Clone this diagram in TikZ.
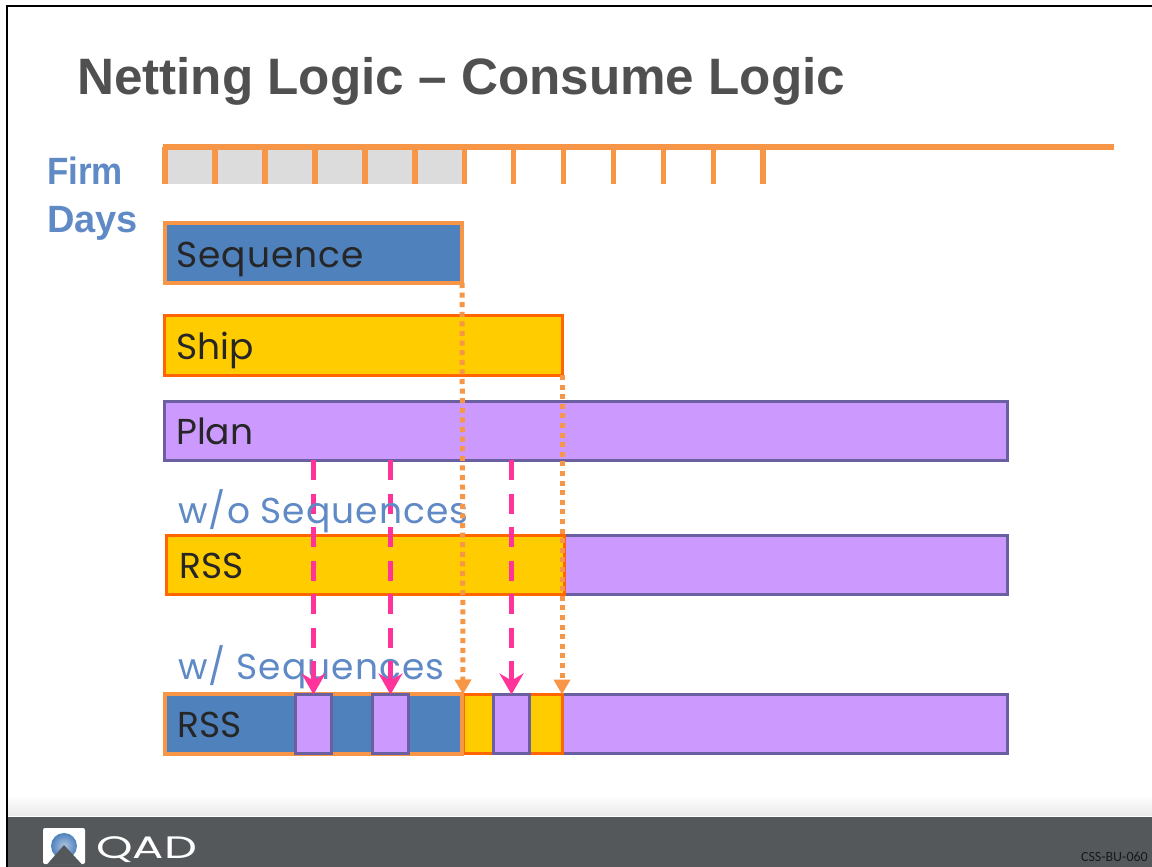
\documentclass[tikz,border=0pt]{standalone}
\usepackage{fontspec}
\setmainfont{Liberation Sans}
\newfontfamily\barfont{Poppins}
\newfontfamily\widefont[LetterSpace=3]{Poppins}
\newfontfamily\smallfont{Carlito}
\usetikzlibrary{arrows.meta}

\definecolor{seqblue}{HTML}{4F81BD}
\definecolor{seqorange}{HTML}{F79646}
\definecolor{shipyellow}{HTML}{FFCC00}
\definecolor{shiporange}{HTML}{FF6600}
\definecolor{planpurple}{HTML}{CC99FF}
\definecolor{planedge}{HTML}{6A5FA0}
\definecolor{headblue}{HTML}{5F8AC6}
\definecolor{titlegrey}{HTML}{505050}
\definecolor{footgrey}{HTML}{54585A}
\definecolor{cellgrey}{HTML}{DCDCDC}
\definecolor{arrowpink}{HTML}{FF3399}

\begin{document}
\begin{tikzpicture}[x=1pt,y=-1pt]

\tikzset{seqbar/.style = {shape=rectangle,draw=seqorange,fill=seqblue,line width=4.5pt,inner sep=0pt,outer sep=0pt}}
\tikzset{shipbar/.style = {shape=rectangle,draw=shiporange,fill=shipyellow,line width=3pt,inner sep=0pt,outer sep=0pt}}
\tikzset{planbar/.style = {shape=rectangle,draw=planedge,fill=planpurple,line width=3pt,inner sep=0pt,outer sep=0pt}}
\tikzset{barlabel/.style = {anchor=base west,inner sep=0pt,text=black!85,font=\barfont\fontsize{36}{40}\selectfont}}
\tikzset{rowlabel/.style = {anchor=base west,inner sep=0pt,text=headblue,font=\widefont\fontsize{36}{40}\selectfont}}
\tikzset{firm/.style = {anchor=base west,inner sep=0pt,text=headblue,font=\bfseries\fontsize{38}{42}\selectfont}}
\tikzset{cell/.style = {shape=rectangle,fill=cellgrey,inner sep=0pt,minimum width=45pt,minimum height=34pt}}
\tikzset{tick/.style = {seqorange,line width=5.5pt}}
\tikzset{planned/.style = {-{Stealth[length=21pt,width=24pt,inset=7pt]},arrowpink,line width=5.5pt,dash pattern=on 20pt off 13.5pt}}
\tikzset{firmed/.style = {-{Triangle[length=15pt,width=16pt]},seqorange,line width=5pt,dash pattern=on 5pt off 4.6pt}}

\useasboundingbox (0,0) rectangle (1152,867);
\fill[white] (0,0) rectangle (1152,867);

% frame and footer
\fill[black] (6,5) rectangle (1152,7);
\fill[black] (6,5) rectangle (8,867);
\shade[top color=white,bottom color=black!8] (8,795) rectangle (1152,815);
\fill[footgrey] (8,817) rectangle (1152,867);

\node[anchor=base west,inner sep=0pt,text=titlegrey,font=\bfseries\fontsize{51.2}{55}\selectfont] (title) at (77,95) {Netting Logic -- Consume Logic};

\node[firm] (firmword) at (47,184) {\scalebox{0.92}[1]{Firm}};
\node[firm] (daysword) at (47,232) {Days};

% firm day cells
\foreach \x in {190,240,290,340,390,440}
  \node[cell] (cell\x) at (\x,167) {};
\draw[seqorange,line width=6pt] (163,147)--(1114,147);
\foreach \x in {165,215,265,315,365,415,464.5,513.5,563.5,613.5,663.5,713.5,763}
  \draw[tick] (\x,147)--(\x,184);

% bars
\node[seqbar,minimum width=297pt,minimum height=60pt] (seq) at (313.5,253) {};
\node[barlabel] (seqlabel) at (176,267) {\widefont Sequence};

\node[shipbar,minimum width=398pt,minimum height=60pt] (ship) at (363,345) {};
\node[barlabel] (shiplabel) at (176,359) {Ship};

\node[planbar,minimum width=843pt,minimum height=59pt] (plan) at (585.5,430.5) {};
\node[barlabel] (planlabel) at (176,444) {Plan};

\node[planbar,minimum width=443pt,minimum height=59pt] (rssplan) at (785.5,565) {};
\node[shipbar,minimum width=398pt,minimum height=59pt] (rssship) at (365.5,565) {};
\node[barlabel] (rsslabel) at (179,578) {RSS};

\node[rowlabel] (wlabel) at (178,679) {w/ Sequences};

\node[planbar,minimum width=445pt,minimum height=59pt] (tailplan) at (784.5,724) {};
\node[shipbar,minimum width=99pt,minimum height=59pt] (tailship) at (512.5,724) {};
\node[seqbar,minimum width=297pt,minimum height=60pt] (tailseq) at (313.5,724) {};
\node[planbar,minimum width=36pt,minimum height=59pt] (slota) at (313.5,724) {};
\node[planbar,minimum width=36pt,minimum height=59pt] (slotb) at (390.5,724) {};
\node[planbar,minimum width=36pt,minimum height=59pt] (slotc) at (511.5,724) {};
\node[barlabel] (tsslabel) at (177,737) {RSS};

% consume arrows
\draw[planned] (slota |- plan.south) -- (slota.north);
\draw[planned] (slotb |- plan.south) -- (slotb.north);
\draw[planned] (slotc |- plan.south) -- (slotc.north);
\node[rowlabel] (wolabel) at (178,523) {w/o Sequences};
\draw[firmed] (seq.south east) -- (tailship.north west);
\draw[firmed] (ship.south east) -- (tailship.north east);

% logo
\fill[white,rounded corners=2pt] (43,828) rectangle (85,864);
\shade[inner color=seqblue!45!white,outer color=seqblue] (64,846) circle (13);
\fill[footgrey] (64,845) -- (82,864.5) -- (47,864.5) -- cycle;
\node[anchor=base west,inner sep=0pt,text=white,font=\barfont\fontsize{31}{34}\selectfont] (qad) at (96,858) {\scalebox{1.5}[1]{QAD}};
\node[anchor=base east,inner sep=0pt,text=black!90,font=\smallfont\fontsize{14}{16}\selectfont] (code) at (1148,861) {CSS-BU-060};

\end{tikzpicture}
\end{document}
